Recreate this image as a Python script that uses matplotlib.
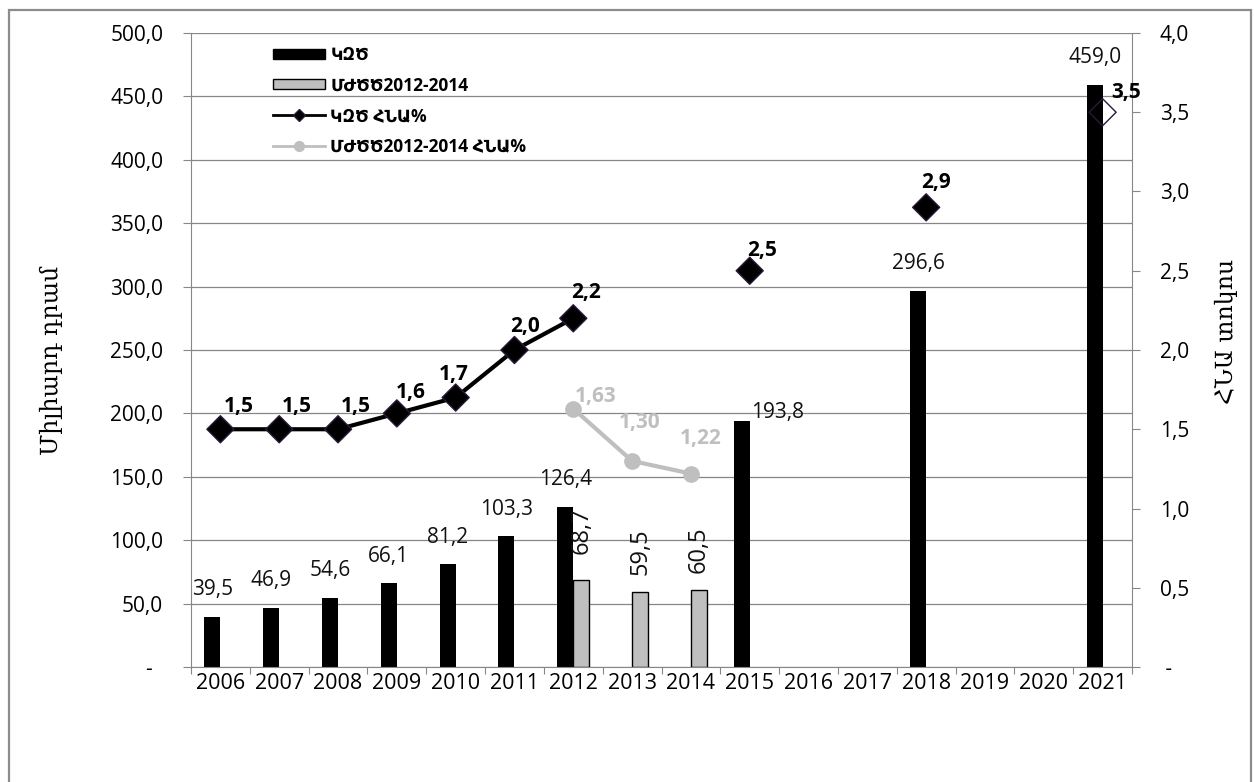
import numpy as np
import matplotlib.pyplot as plt
from matplotlib.ticker import FuncFormatter, FixedLocator
from matplotlib.lines import Line2D
from matplotlib.patches import Patch, Rectangle

plt.rcParams['font.family'] = ['Open Sans', 'DejaVu Sans']

# Years on the category axis
years = [str(y) for y in range(2006, 2022)]

# Spending, billion AMD (program and MTEF 2012-2014)
kzc = [39.5, 46.9, 54.6, 66.1, 81.2, 103.3, 126.4, np.nan, np.nan,
       193.8, np.nan, np.nan, 296.6, np.nan, np.nan, 459.0]
mjcc = [np.nan] * 6 + [68.7, 59.5, 60.5] + [np.nan] * 7

# Share of GDP, %
kzc_gdp = [1.5, 1.5, 1.5, 1.6, 1.7, 2.0, 2.2, np.nan, np.nan,
           2.5, np.nan, np.nan, 2.9, np.nan, np.nan, 3.5]
mjcc_gdp = [np.nan] * 6 + [1.63, 1.30, 1.22] + [np.nan] * 7

labels = ["ԿԶԾ", "ՄԺԾԾ2012-2014", "ԿԶԾ ՀՆԱ%", "ՄԺԾԾ2012-2014 ՀՆԱ%"]

GRID = "#878787"
LIGHT = "#bfbfbf"


def comma(v, digits=1):
    return f"{v:.{digits}f}".replace(".", ",")


W, H = 1254, 782
fig = plt.figure(figsize=(W / 100, H / 100), dpi=100)
ax = fig.add_axes([191 / W, 1 - 667 / H, (1132 - 191) / W, (667 - 33) / H])
ax2 = ax.twinx()

x = np.arange(len(years))
k = np.array(kzc)
m = np.array(mjcc)
bw = 0.272

# bars: program to the left of the category centre, MTEF to the right
kb = ~np.isnan(k)
mb = ~np.isnan(m)
ax.bar(x[kb], k[kb], width=-bw, align="edge", color="black", zorder=2)
ax.bar(x[mb], m[mb], width=bw, align="edge", color=LIGHT,
       edgecolor="black", linewidth=1.0, zorder=2)

ax.set_xlim(-0.5, len(years) - 0.5)
ax.set_ylim(0, 500)
ax.set_yticks(np.arange(0, 501, 50))
ax.yaxis.set_major_formatter(FuncFormatter(lambda v, p: "-  " if v == 0 else comma(v)))
ax.grid(axis="y", color=GRID, linewidth=0.9)
ax.set_axisbelow(True)

ax.xaxis.set_major_locator(FixedLocator(np.arange(-0.5, len(years), 1)))
ax.set_xticklabels([])
ax.set_xticks(x, minor=True)
ax.set_xticklabels(years, minor=True)
ax.tick_params(axis="x", which="major", length=5, color=GRID, direction="out")
ax.tick_params(axis="x", which="minor", length=0, pad=4, labelsize=15.5)
ax.tick_params(axis="y", length=6, color=GRID, pad=14, labelsize=15)

for s in ["top", "right"]:
    ax.spines[s].set_visible(False)
for s in ["left", "bottom"]:
    ax.spines[s].set_color(GRID)

# bar value labels
for xi, v in zip(x[kb], k[kb]):
    dx = 0
    dy = 27
    if xi == 9:
        dx, dy = 36, 9
    ax.annotate(comma(v), (xi - bw / 2, v), xytext=(dx, dy),
                textcoords="offset pixels", ha="center", va="center",
                fontsize=15, color="#111111")
for xi, v in zip(x[mb], m[mb]):
    gap = 26 if xi == 6 else 17
    ax.annotate(comma(v), (xi + bw / 2, v), xytext=(0, gap),
                textcoords="offset pixels", ha="center", va="bottom",
                rotation=90, fontsize=17, color="#111111")

ax.set_ylabel("Միլիարդ դրամ", family="DejaVu Serif", fontsize=17)
ax.yaxis.set_label_coords(-0.136, 0.483)

# GDP share lines on the right axis
kg = np.array(kzc_gdp)
mg = np.array(mjcc_gdp)
ax2.plot(x, kg, color="black", linewidth=3, zorder=3)
face = ["none" if xi == 15 else "black" for xi in x[~np.isnan(kg)]]
ax2.scatter(x[~np.isnan(kg)], kg[~np.isnan(kg)], marker="D", s=190,
            facecolors=face, edgecolors="#2a1a3a", linewidths=1.0, zorder=4)
ax2.plot(x, mg, color=LIGHT, linewidth=3, marker="o", markersize=11, zorder=3)

ax2.set_ylim(0, 4)
ax2.set_yticks(np.arange(0, 4.01, 0.5))
ax2.yaxis.set_major_formatter(FuncFormatter(lambda v, p: " -" if v == 0 else comma(v)))
ax2.tick_params(axis="y", length=6, color=GRID, pad=14, labelsize=15)
for s in ["top", "left", "bottom"]:
    ax2.spines[s].set_visible(False)
ax2.spines["right"].set_color(GRID)
ax2.set_ylabel("ՀՆԱ տոկոս", family="DejaVu Serif", fontsize=17, rotation=90)
ax2.yaxis.set_label_coords(1.088, 0.530)

# GDP share labels
k_off = {0: (18, 23), 1: (18, 23), 2: (18, 23), 3: (14, 21), 4: (-2, 23),
         5: (11, 23), 6: (13, 26), 9: (12, 20), 12: (10, 25), 15: (24, 20)}
for xi, v in zip(x, kg):
    if np.isnan(v):
        continue
    dx, dy = k_off[xi]
    ax2.annotate(comma(v), (xi, v), xytext=(dx, dy), textcoords="offset pixels",
                 ha="center", va="center", fontsize=15, fontweight="bold",
                 color="black", zorder=5)
m_off = {6: (22, 12), 7: (8, 38), 8: (10, 35)}
for xi, v in zip(x, mg):
    if np.isnan(v):
        continue
    dx, dy = m_off[xi]
    ax2.annotate(comma(v, 2), (xi, v), xytext=(dx, dy), textcoords="offset pixels",
                 ha="center", va="center", fontsize=15, fontweight="bold",
                 color=LIGHT, zorder=5)

# legend
handles = [
    Patch(facecolor="black", edgecolor="black"),
    Patch(facecolor=LIGHT, edgecolor="black", linewidth=1.0),
    Line2D([], [], color="black", linewidth=2, marker="D", markersize=6,
           markeredgecolor="#2a1a3a"),
    Line2D([], [], color=LIGHT, linewidth=2, marker="o", markersize=7),
]
ax2.legend(handles, labels, loc="upper left",
           bbox_to_anchor=(273 / W, 1 - 46 / H), bbox_transform=fig.transFigure,
           frameon=False, prop={"size": 12.5, "weight": "bold"},
           handlelength=3.0, handleheight=0.5,
           handletextpad=0.3, labelspacing=0.72, borderpad=0, borderaxespad=0)

# outer frame
fig.add_artist(Rectangle((9 / W, -0.05), (1251 - 9) / W, 1.05 - 10 / H,
                         transform=fig.transFigure, fill=False,
                         edgecolor="#8c8c8c", linewidth=1.6))

fig.savefig("out.png", dpi=100)
